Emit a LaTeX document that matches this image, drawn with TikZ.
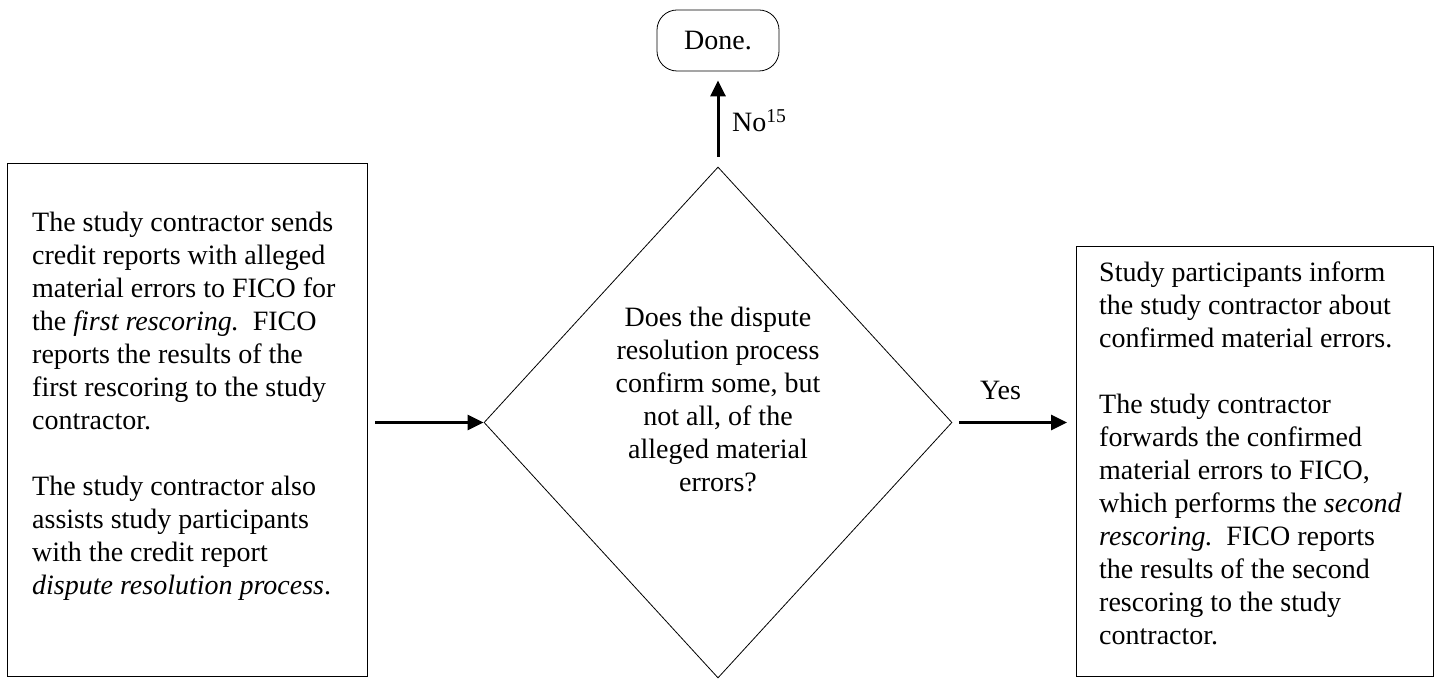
\documentclass[tikz,border=0pt]{standalone}
\usepackage{fontspec}
\setmainfont{Liberation Serif}
\usetikzlibrary{shapes.geometric,arrows.meta,calc}
\tikzset{
  procbox/.style={draw, line width=1.3pt, inner sep=0pt, anchor=south west},
  lbl/.style={font=\fontsize{28}{33}\selectfont, inner sep=0pt},
  txt/.style={lbl, align=left, anchor=base west},
  ctxt/.style={lbl, align=center, anchor=base},
  flow/.style={line width=3pt, -{Triangle[length=16pt,width=15pt]}},
}
\begin{document}
\begin{tikzpicture}[x=1pt,y=1pt]
\useasboundingbox (0,0) rectangle (1438,679);
% left box
\node[procbox, minimum width=360pt, minimum height=513pt] (lbox) at (7,2) {};
\node[txt] (ltext) at (32,84) {The study contractor sends\\
credit reports with alleged\\
material errors to FICO for\\
the \textit{first rescoring.}\ \ FICO\\
reports the results of the\\
first rescoring to the study\\
contractor.\\[33pt]
The study contractor also\\
assists study participants\\
with the credit report\\
\textit{dispute resolution process}.};
% diamond
\node[draw, diamond, minimum width=468pt, minimum height=511pt, inner sep=0pt, line width=0.8pt] (dia) at (718,256.5) {};
\node[ctxt] (dtext) at (718,187) {Does the dispute\\
resolution process\\
confirm some, but\\
not all, of the\\
alleged material\\
errors?};
% right box
\node[procbox, minimum width=357pt, minimum height=430pt] (rbox) at (1076,2) {};
\node[txt] (rtext) at (1099,34) {Study participants inform\\
the study contractor about\\
confirmed material errors.\\[33pt]
The study contractor\\
forwards the confirmed\\
material errors to FICO,\\
which performs the \textit{second}\\
\textit{rescoring.}\ \ FICO reports\\
the results of the second\\
rescoring to the study\\
contractor.};
% done
\node[draw, rounded corners=20pt, minimum width=122pt, minimum height=61pt, line width=0.8pt, inner sep=0pt, lbl] (done) at (718,638.5) {Done.};
% connectors
\draw[flow] ($(lbox.east |- dia.west)+(7,0)$) -- (dia.west);
\draw[flow] ($(dia.east)+(7,0)$) -- ($(rbox.west |- dia.east)+(-9,0)$);
\draw[flow] ($(dia.north)+(0,10)$) -- ($(done.south)+(0,-9)$);
\node[lbl, anchor=base west] (yes) at (980,279) {Yes};
\node[lbl, anchor=base west] (no) at (732,547) {No\textsuperscript{15}};
\end{tikzpicture}
\end{document}
